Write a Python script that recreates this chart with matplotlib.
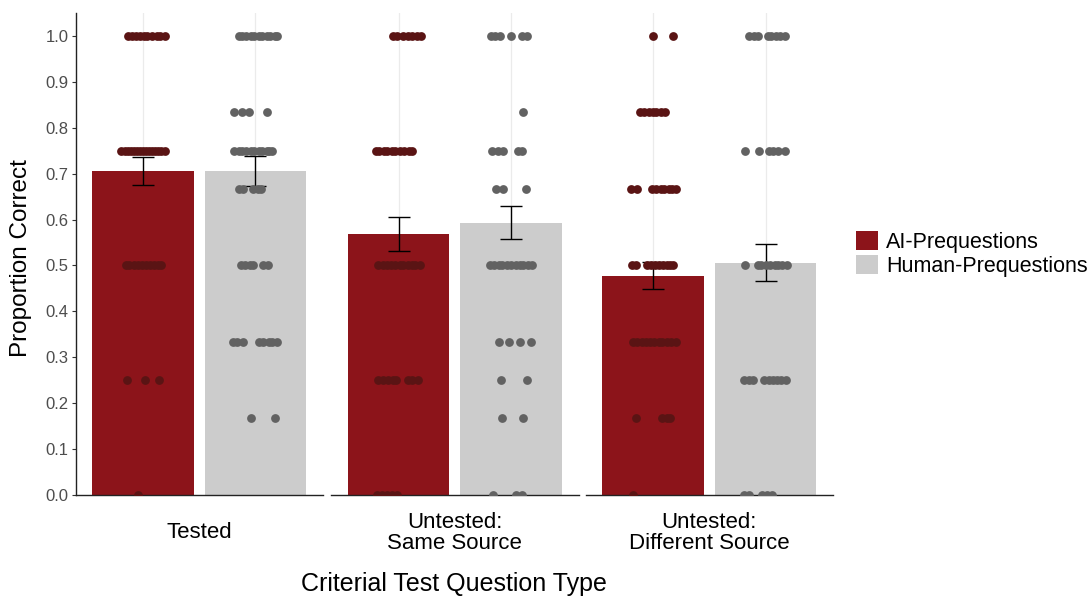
import numpy as np
import matplotlib
matplotlib.use('Agg')
import matplotlib.pyplot as plt
from matplotlib.patches import Patch

plt.rcParams['font.family'] = ['Liberation Sans', 'DejaVu Sans']

# --- data ---
question_types = ['Tested', 'Untested:\nSame Source', 'Untested:\nDifferent Source']
conditions = ['AI-Prequestions', 'Human-Prequestions']

mean_ai = [0.706, 0.569, 0.478]
mean_human = [0.706, 0.593, 0.506]
se_ai = [0.030, 0.037, 0.030]
se_human = [0.033, 0.036, 0.040]

# individual participant scores: score -> horizontal jitter (in bar units)
tested_ai = {
    1.0: [-0.13, -0.10, -0.06, -0.03, 0.01, 0.04, 0.08, 0.12, 0.15, 0.20],
    0.75: [-0.20, -0.16, -0.13, -0.11, -0.08, -0.05, -0.03, 0.0, 0.03, 0.05, 0.08, 0.11, 0.13, 0.16, 0.20],
    0.5: [-0.15, -0.12, -0.08, -0.04, -0.01, 0.03, 0.06, 0.10, 0.13, 0.16],
    0.25: [-0.14, 0.02, 0.14],
    0.0: [-0.04],
}
tested_human = {
    1.0: [-0.15, -0.12, -0.08, -0.04, -0.01, 0.03, 0.06, 0.10, 0.13, 0.17, 0.19],
    5/6: [-0.19, -0.12, -0.06, 0.10],
    0.75: [-0.19, -0.15, -0.12, -0.08, -0.04, -0.01, 0.03, 0.06, 0.10, 0.12, 0.15],
    4/6: [-0.15, -0.11, -0.02, 0.02, 0.05],
    0.5: [-0.13, -0.09, -0.05, -0.02, 0.07, 0.11],
    2/6: [-0.20, -0.16, -0.11, 0.03, 0.07, 0.12, 0.15, 0.19],
    1/6: [-0.04, 0.17],
}
same_ai = {
    1.0: [-0.05, -0.01, 0.04, 0.08, 0.12, 0.16, 0.20],
    0.75: [-0.20, -0.17, -0.13, -0.10, -0.06, -0.03, 0.01, 0.05, 0.09, 0.12],
    0.5: [-0.18, -0.14, -0.10, -0.07, -0.03, 0.01, 0.04, 0.08, 0.12, 0.15, 0.19],
    0.25: [-0.18, -0.14, -0.09, -0.05, -0.02, 0.08, 0.12, 0.17],
    0.0: [-0.19, -0.15, -0.10, -0.06, -0.01],
}
same_human = {
    1.0: [-0.18, -0.14, -0.10, 0.0, 0.10, 0.14],
    5/6: [0.11],
    0.75: [-0.17, -0.12, -0.07, 0.06, 0.10],
    4/6: [-0.13, -0.07, 0.13],
    0.5: [-0.19, -0.15, -0.11, -0.08, -0.04, 0.0, 0.04, 0.08, 0.11, 0.15, 0.19],
    2/6: [-0.11, -0.02, 0.08, 0.18],
    0.25: [-0.09, 0.14],
    1/6: [-0.08, 0.11],
    0.0: [-0.16, 0.04, 0.10],
}
diff_ai = {
    1.0: [0.0, 0.18],
    5/6: [-0.12, -0.08, -0.04, 0.0, 0.03, 0.07, 0.11],
    4/6: [-0.20, -0.14, -0.01, 0.03, 0.07, 0.10, 0.14, 0.17, 0.20],
    0.5: [-0.19, -0.15, -0.05, -0.02, 0.02, 0.05, 0.09, 0.12, 0.15, 0.18],
    2/6: [-0.18, -0.14, -0.10, -0.06, -0.03, 0.01, 0.05, 0.08, 0.12, 0.16, 0.20],
    1/6: [-0.15, 0.08, 0.12, 0.15],
    0.0: [-0.18],
}
diff_human = {
    1.0: [-0.15, -0.10, -0.07, 0.02, 0.05, 0.09, 0.13, 0.17],
    0.75: [-0.18, -0.06, 0.03, 0.07, 0.11, 0.17],
    0.5: [-0.18, -0.07, -0.04, 0.0, 0.04, 0.08, 0.11, 0.15, 0.19],
    0.25: [-0.19, -0.15, -0.11, -0.01, 0.03, 0.07, 0.10, 0.14, 0.18],
    0.0: [-0.19, -0.15, -0.03, 0.01, 0.06],
}
points_ai = [tested_ai, same_ai, diff_ai]
points_human = [tested_human, same_human, diff_human]

bar_ai = '#8c141a'
bar_human = '#cccccc'
dot_ai = '#5a1414'
dot_human = '#626262'

W, H = 1087, 596
fig = plt.figure(figsize=(W/100, H/100), dpi=100)

panel_left = [75.5, 331, 585.5]
panel_w = 247.5
top, bottom = 13, 495

for i in range(3):
    ax = fig.add_axes([panel_left[i]/W, 1-bottom/H, panel_w/W, (bottom-top)/H])
    ax.set_xlim(0.4, 2.6)
    ax.set_ylim(0, 1.05)
    for xc in [1, 2]:
        ax.axvline(xc, color='#ebebeb', lw=0.9, zorder=1)
    ax.bar([1, 2], [mean_ai[i], mean_human[i]], width=0.9,
           color=[bar_ai, bar_human], zorder=2)
    ax.errorbar([1, 2], [mean_ai[i], mean_human[i]], yerr=[se_ai[i], se_human[i]],
                fmt='none', ecolor='black', elinewidth=1.0, capsize=7.9,
                capthick=1.0, zorder=3)
    for xc, pts, col in [(1, points_ai[i], dot_ai), (2, points_human[i], dot_human)]:
        for score, jit in pts.items():
            xs = xc + np.array(jit)
            ax.scatter(xs, np.full(len(xs), score), s=40, color=col,
                       linewidths=0, zorder=4)
    ax.set_xticks([])
    for s in ['top', 'right']:
        ax.spines[s].set_visible(False)
    ax.spines['bottom'].set_color('#222222')
    ax.spines['bottom'].set_linewidth(1.0)
    if i == 0:
        ax.spines['left'].set_color('#222222')
        ax.spines['left'].set_linewidth(1.0)
        ax.set_yticks(np.arange(0, 1.01, 0.1))
        ax.set_yticklabels(['%.1f' % v for v in np.arange(0, 1.01, 0.1)])
        ax.tick_params(axis='y', length=3, width=0.8, color='#333333',
                       labelcolor='#4d4d4d', labelsize=12, pad=2)
    else:
        ax.spines['left'].set_visible(False)
        ax.set_yticks([])
    ax.patch.set_alpha(0)
    cx = panel_left[i] + panel_w/2
    fig.text(cx/W, 1-533/H, question_types[i], ha='center', va='center',
             fontsize=16, linespacing=1.0)

fig.text(21/W, 1-258/H, 'Proportion Correct', rotation=90, ha='center',
         va='center', fontsize=17.5)
fig.text(454/W, 1-584/H, 'Criterial Test Question Type', ha='center',
         va='center', fontsize=18)

handles = [Patch(facecolor=bar_ai), Patch(facecolor=bar_human)]
fig.legend(handles, conditions, loc='upper left', bbox_to_anchor=(856/W, 1-231/H),
           frameon=False, fontsize=15.5, handlelength=1.0, handleheight=1.0,
           handletextpad=0.4, labelspacing=0.1, borderpad=0, borderaxespad=0)

fig.savefig('out.png', dpi=100)
